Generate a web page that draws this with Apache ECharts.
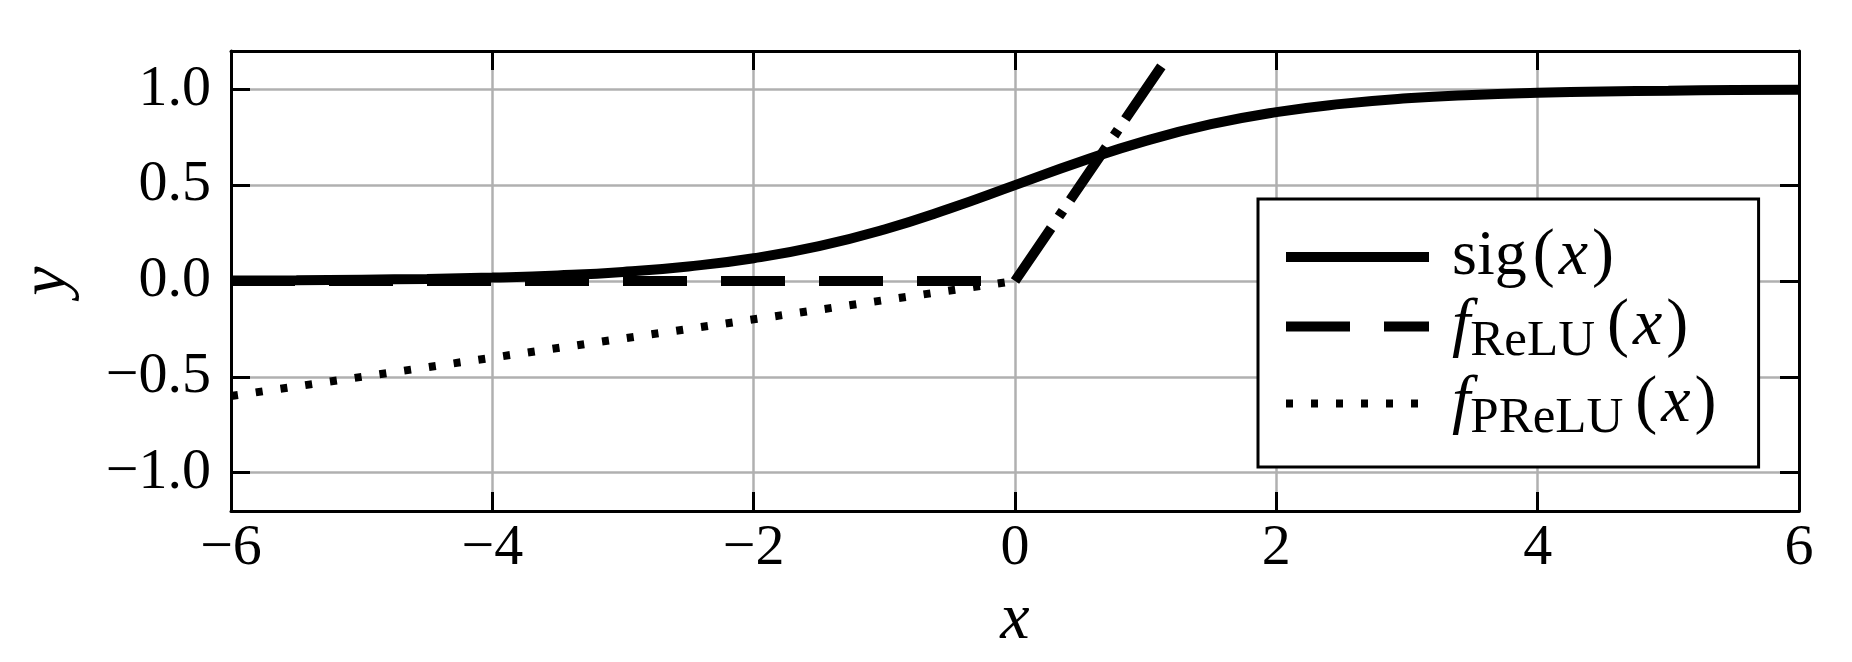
<!DOCTYPE html>
<html>
<head>
<meta charset="utf-8">
<script src="https://cdn.jsdelivr.net/npm/echarts@6/dist/echarts.min.js"></script>
<style>
  html, body { margin: 0; padding: 0; background: #fff; }
  #chart { width: 1852px; height: 662px; }
</style>
</head>
<body>
<div id="chart"></div>
<script>
// values
var sigX = [-6, -5.5, -5, -4.5, -4, -3.5, -3, -2.5, -2, -1.5, -1, -0.5, 0,
  0.5, 1, 1.5, 2, 2.5, 3, 3.5, 4, 4.5, 5, 5.5, 6];
var sigY = [0.003, 0.004, 0.007, 0.011, 0.018, 0.029, 0.047, 0.076, 0.119, 0.182, 0.269, 0.378, 0.5,
  0.622, 0.731, 0.818, 0.881, 0.924, 0.953, 0.971, 0.982, 0.989, 0.993, 0.996, 0.998];
var reluNegX = [-6, 0];
var reluNegY = [0, 0];
var reluPosX = [0, 1.12];
var reluPosY = [0, 1.12];
var preluX = [-6, 0];
var preluY = [-0.6, 0];

var serif = "'Liberation Serif', 'DejaVu Serif', serif";
var minus = function (s) { return String(s).replace('-', '\u2212'); };
var pairs = function (xs, ys) { return xs.map(function (x, i) { return [x, ys[i]]; }); };

var legendText = {
  sig: '{r|sig}{p|(}{i|x}{p|)}',
  relu: '{f|f}{s|ReLU}{p|(}{i|x}{p|)}',
  prelu: '{f|f}{s|PReLU}{p|(}{i|x}{p|)}'
};

var chart = echarts.init(document.getElementById('chart'));

var frameLine = { show: true, onZero: false, lineStyle: { color: '#000', width: 3 } };
var inTick = { show: true, inside: true, length: 19, lineStyle: { color: '#000', width: 3 } };
var gridLine = { show: true, lineStyle: { color: '#b0b0b0', width: 2.5 } };

chart.setOption({
  animation: false,
  grid: { left: 231, right: 53, top: 51, bottom: 151 },
  xAxis: [
    {
      type: 'value', position: 'bottom', min: -6, max: 6, interval: 2,
      axisLine: frameLine, axisTick: inTick, splitLine: gridLine,
      axisLabel: {
        color: '#000', fontFamily: serif, fontSize: 58, margin: 9,
        formatter: function (v) { return minus(v); }
      },
      name: 'x', nameLocation: 'middle', nameGap: 77,
      nameTextStyle: { color: '#000', fontFamily: serif, fontStyle: 'italic', fontSize: 66 }
    },
    {
      type: 'value', position: 'top', min: -6, max: 6, interval: 2,
      axisLine: frameLine, axisTick: inTick, splitLine: { show: false }, axisLabel: { show: false }
    }
  ],
  yAxis: [
    {
      type: 'value', position: 'left', min: -1.2, max: 1.2, splitNumber: 5,
      axisLine: frameLine, axisTick: inTick, splitLine: gridLine,
      axisLabel: {
        color: '#000', fontFamily: serif, fontSize: 58, margin: 20,
        showMinLabel: false, showMaxLabel: false,
        formatter: function (v) { return minus(v.toFixed(1)); }
      },
      name: 'y', nameLocation: 'middle', nameGap: 150,
      nameTextStyle: { color: '#000', fontFamily: serif, fontStyle: 'italic', fontSize: 66 }
    },
    {
      type: 'value', position: 'right', min: -1.2, max: 1.2, splitNumber: 5,
      axisLine: frameLine, axisTick: inTick, splitLine: { show: false }, axisLabel: { show: false }
    }
  ],
  legend: {
    orient: 'vertical', left: 1258, top: 199,
    data: ['sig', 'relu', 'prelu'],
    itemWidth: 143, itemHeight: 2, itemGap: -4,
    padding: [25, 38, 23, 23],
    backgroundColor: '#fff', borderColor: '#000', borderWidth: 3, borderRadius: 0,
    lineStyle: { width: 'inherit', type: 'inherit', color: 'inherit' },
    itemStyle: { opacity: 0 },
    formatter: function (name) { return legendText[name]; },
    textStyle: {
      color: '#000', fontFamily: serif,
      rich: {
        r: { fontFamily: serif, fontSize: 64, lineHeight: 64, padding: [0, 2, 0, 18] },
        p: { fontFamily: serif, fontSize: 66, lineHeight: 64, padding: [0, 4, 0, 4] },
        i: { fontFamily: serif, fontSize: 66, fontStyle: 'italic', lineHeight: 64 },
        f: { fontFamily: serif, fontSize: 66, fontStyle: 'italic', lineHeight: 64, padding: [0, 0, 0, 18] },
        s: { fontFamily: serif, fontSize: 51, lineHeight: 34, padding: [30, 8, 0, 0] }
      }
    }
  },
  series: [
    {
      name: 'sig', type: 'line', data: pairs(sigX, sigY),
      symbol: 'none', smooth: true,
      itemStyle: { color: '#000' },
      lineStyle: { color: '#000', width: 10 }
    },
    {
      name: 'relu', type: 'line', data: pairs(reluNegX, reluNegY), symbol: 'none',
      itemStyle: { color: '#000' },
      lineStyle: { color: '#000', width: 10, type: [64, 34] }
    },
    {
      name: 'relu', type: 'line', data: pairs(reluPosX, reluPosY), symbol: 'none',
      itemStyle: { color: '#000' },
      lineStyle: { color: '#000', width: 10, type: [64, 14, 7, 13] }
    },
    {
      name: 'prelu', type: 'line', data: pairs(preluX, preluY), symbol: 'none',
      itemStyle: { color: '#000' },
      lineStyle: { color: '#000', width: 8, type: [7, 18] }
    }
  ]
});
</script>
</body>
</html>
